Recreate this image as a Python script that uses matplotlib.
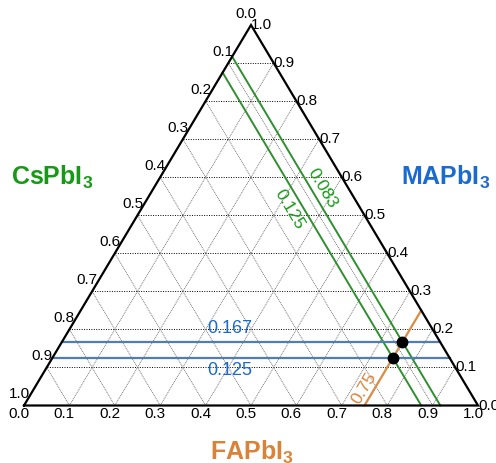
import numpy as np
import matplotlib
matplotlib.use("Agg")
import matplotlib.pyplot as plt

plt.rcParams["font.family"] = ["Liberation Sans", "DejaVu Sans"]
plt.rcParams["mathtext.fontset"] = "custom"
plt.rcParams["mathtext.rm"] = "Liberation Sans"
plt.rcParams["mathtext.bf"] = "Liberation Sans:bold"

# Composition fractions: CsPbI3 (bottom-left), FAPbI3 (bottom-right), MAPbI3 (top)
tick_values = [round(0.1 * i, 1) for i in range(11)]
ma_levels = [0.167, 0.125]          # constant MAPbI3 lines
cs_levels = [0.083, 0.125]          # constant CsPbI3 lines
fa_levels = [0.75]                  # constant FAPbI3 line
points_fa = [0.75, 0.75]
points_ma = [0.167, 0.125]
vertex_names = ["CsPbI$_\\mathbf{3}$", "FAPbI$_\\mathbf{3}$", "MAPbI$_\\mathbf{3}$"]

GREEN_TXT = "#159a15"
BLUE_TXT = "#1a6ad0"
ORANGE_TXT = "#db8239"
GREEN_LINE = "#2f8f2f"
BLUE_LINE = "#4f7db5"
ORANGE_LINE = "#d98c45"


def xy(fa, ma):
    """Ternary (FA, MA) -> cartesian, with Cs = 1 - FA - MA."""
    return fa + ma / 2.0, ma


W, H = 496, 463
fig = plt.figure(figsize=(W / 100, H / 100), dpi=100)
ax = fig.add_axes([24 / W, 57.5 / H, 454 / W, 380.5 / H])
ax.set_xlim(0, 1)
ax.set_ylim(0, 1)
ax.axis("off")

# grid
for k in tick_values[1:-1]:
    # constant MA (horizontal)
    x0, y0 = xy(0, k)
    x1, y1 = xy(1 - k, k)
    ax.plot([x0, x1], [y0, y1], color="black", lw=0.7, ls=(0, (1, 1.5)), zorder=1)
    # constant FA
    x0, y0 = xy(k, 0)
    x1, y1 = xy(k, 1 - k)
    ax.plot([x0, x1], [y0, y1], color="#6a6a6a", lw=0.6, ls=(0, (1.2, 1)), zorder=1)
    # constant Cs
    x0, y0 = xy(1 - k, 0)
    x1, y1 = xy(0, 1 - k)
    ax.plot([x0, x1], [y0, y1], color="#6a6a6a", lw=0.6, ls=(0, (1.2, 1)), zorder=1)

# composition lines
for c in cs_levels:
    x0, y0 = xy(1 - c, 0)
    x1, y1 = xy(0, 1 - c)
    ax.plot([x0, x1], [y0, y1], color=GREEN_LINE, lw=1.4, zorder=2, clip_on=False)
for m in ma_levels:
    x0, y0 = xy(0, m)
    x1, y1 = xy(1 - m, m)
    ax.plot([x0, x1], [y0, y1], color=BLUE_LINE, lw=1.6, zorder=2, clip_on=False)
for f in fa_levels:
    x0, y0 = xy(f, 0)
    x1, y1 = xy(f, 1 - f)
    ax.plot([x0, x1], [y0, y1], color=ORANGE_LINE, lw=1.6, zorder=2, clip_on=False)

# triangle outline
tri = np.array([xy(0, 0), xy(1, 0), xy(0, 1), xy(0, 0)])
ax.plot(tri[:, 0], tri[:, 1], color="black", lw=1.6, zorder=3, clip_on=False,
        solid_joinstyle="miter")

# composition points
px, py = xy(np.array(points_fa), np.array(points_ma))
ax.plot(px, py, "o", color="black", ms=7.5, zorder=5, clip_on=False)

# tick labels
fs = 11
for k in tick_values:
    lab = f"{k:.1f}"
    # bottom axis: FAPbI3
    ax.annotate(lab, xy(k, 0), xytext=(-5, -9), textcoords="offset pixels",
                ha="center", va="center", fontsize=fs, annotation_clip=False)
    # right axis: MAPbI3
    ax.annotate(lab, xy(1 - k, k), xytext=(0, 0), textcoords="offset pixels",
                ha="left", va="center", fontsize=fs, annotation_clip=False)
    # left axis: CsPbI3
    ax.annotate(lab, xy(0, 1 - k), xytext=(-5, 11), textcoords="offset pixels",
                ha="center", va="center", fontsize=fs, annotation_clip=False)

# labels on the constant-MA lines
label_x = 0.454
for m, dy in zip(ma_levels, [13, -13]):
    ax.annotate(f"{m:.3f}", (label_x, m), xytext=(0, dy), textcoords="offset pixels",
                fontsize=13, color=BLUE_TXT, ha="center", va="center",
                annotation_clip=False)

# labels along the constant-Cs lines
ang = np.degrees(np.arctan2(380.5, 227))
for c, ma_at, dx in zip(cs_levels, [0.572, 0.516], [12, -15]):
    ax.annotate(f"{c:.3f}", xy(1 - c - ma_at, ma_at), xytext=(dx, 0),
                textcoords="offset pixels", fontsize=12.5, color=GREEN_TXT,
                ha="center", va="center", rotation=-ang, rotation_mode="anchor",
                annotation_clip=False)

# label along the constant-FA line
for f, ma_at in zip(fa_levels, [0.046]):
    ax.annotate(f"{f:.2f}", xy(f, ma_at), xytext=(-11, 0),
                textcoords="offset pixels", fontsize=12.5, color=ORANGE_TXT,
                ha="center", va="center", rotation=ang, rotation_mode="anchor",
                annotation_clip=False)

# vertex names
fig.text(52 / W, 1 - 177 / H, vertex_names[0], color=GREEN_TXT, fontsize=18,
         fontweight="bold", ha="center", va="center")
fig.text(446 / W, 1 - 177 / H, vertex_names[2], color=BLUE_TXT, fontsize=18,
         fontweight="bold", ha="center", va="center")
fig.text(252 / W, 1 - 452 / H, vertex_names[1], color=ORANGE_TXT, fontsize=18,
         fontweight="bold", ha="center", va="center")

fig.savefig("out.png", dpi=100)
